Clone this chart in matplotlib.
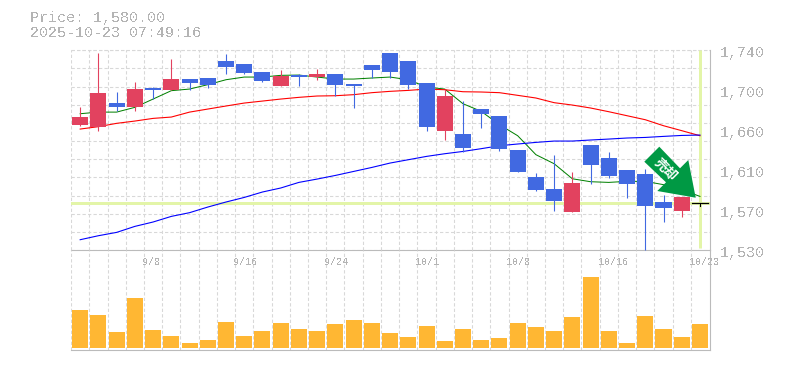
"""
Candlestick chart with moving averages and volume
"""
import matplotlib
matplotlib.use("Agg")
import matplotlib.pyplot as plt
from matplotlib.patches import Polygon

# ---- data ----
date_labels = ["9/8", "9/16", "9/24", "10/1", "10/8", "10/16", "10/23"]
date_index = [4, 9, 14, 19, 24, 29, 34]
price_labels = ["1,530", "1,570", "1,610", "1,660", "1,700", "1,740"]

opens = [1661.8, 1659.7, 1684.9, 1680.7, 1700.6, 1698.5, 1710.0, 1711.0, 1729.0, 1725.8,
         1717.4, 1702.7, 1714.3, 1712.2, 1715.3, 1704.8, 1724.8, 1737.4, 1729.0, 1705.9,
         1655.5, 1652.3, 1678.6, 1671.2, 1635.5, 1607.2, 1594.6, 1570.4, 1640.8, 1627.1,
         1614.5, 1610.3, 1580.9, 1571.4, 1580.0]
highs = [1680.7, 1737.4, 1696.4, 1706.9, 1701.7, 1731.0, 1710.0, 1711.0, 1736.3, 1725.8,
         1717.4, 1719.5, 1715.3, 1720.6, 1715.3, 1704.8, 1724.8, 1737.4, 1729.0, 1705.9,
         1699.6, 1687.0, 1678.6, 1671.2, 1635.5, 1611.4, 1630.3, 1612.4, 1640.8, 1633.4,
         1614.5, 1615.6, 1587.9, 1585.5, 1580.0]
lows = [1660.7, 1655.5, 1676.5, 1676.5, 1689.0, 1698.5, 1698.5, 1700.6, 1715.3, 1715.3,
        1706.9, 1702.7, 1702.7, 1709.0, 1692.2, 1679.6, 1710.8, 1711.1, 1699.6, 1655.5,
        1646.0, 1633.4, 1658.6, 1634.5, 1612.4, 1592.5, 1571.4, 1570.4, 1599.8, 1606.1,
        1585.1, 1530.0, 1559.9, 1565.2, 1576.0]
closes = [1670.2, 1695.4, 1680.7, 1699.6, 1698.5, 1710.0, 1705.9, 1703.8, 1722.7, 1716.4,
          1708.0, 1713.2, 1712.2, 1715.3, 1703.8, 1702.7, 1719.5, 1717.4, 1703.8, 1659.7,
          1692.2, 1637.6, 1673.3, 1636.6, 1612.4, 1593.5, 1582.0, 1600.8, 1619.8, 1608.2,
          1599.8, 1576.7, 1574.6, 1585.5, 1580.0]

ma_short = [1673.3, 1675.0, 1675.0, 1680.0, 1688.7, 1697.5, 1699.2, 1703.8, 1709.0, 1711.8,
            1711.8, 1713.6, 1713.9, 1711.8, 1709.7, 1709.7, 1710.8, 1711.8, 1709.0, 1701.3,
            1699.2, 1683.8, 1675.8, 1661.8, 1650.2, 1630.3, 1620.8, 1605.0, 1601.9, 1601.2,
            1602.3, 1602.3, 1598.8, 1593.5, 1586.5]
ma_mid = [1657.2, 1659.7, 1663.2, 1665.6, 1668.4, 1669.8, 1675.0, 1678.2, 1681.4, 1684.5,
          1686.6, 1688.7, 1690.5, 1691.9, 1692.2, 1693.3, 1695.4, 1696.8, 1697.8, 1699.2,
          1698.5, 1696.4, 1696.1, 1695.4, 1692.6, 1689.8, 1684.9, 1682.4, 1679.3, 1675.4,
          1671.2, 1667.0, 1660.7, 1655.5, 1650.2]
ma_long = [1541.0, 1545.2, 1548.7, 1555.0, 1559.6, 1565.5, 1569.4, 1575.3, 1580.6, 1585.4,
           1591.1, 1595.3, 1601.2, 1604.7, 1608.5, 1612.7, 1616.9, 1621.5, 1625.0, 1628.5,
           1631.3, 1633.7, 1636.6, 1639.7, 1641.5, 1643.2, 1644.6, 1644.6, 1645.7, 1646.7,
           1647.8, 1648.4, 1649.5, 1650.5, 1650.9]

volumes = [115, 100, 49, 151, 55, 37, 16, 25, 79, 37, 52, 76, 58, 52, 73, 85, 76, 46,
           33, 66, 21, 57, 24, 30, 75, 63, 51, 93, 213, 51, 15, 96, 57, 33, 72]

last_price = 1580.0

# ---- style ----
W, H = 785, 370
LEFT, RIGHT = 70.5, 710.0
PRICE_TOP, PRICE_BOTTOM, VOL_BOTTOM = 50.2, 250.2, 349.5
TEXT = "#b4b4b4"
GRID = "#d8d8d8"
AXIS = "#bbbbbb"
HILITE = "#e3f5a8"
UP = "#e2425f"
DOWN = "#4169e1"
VOLUME = "#ffb733"
ARROW = "#009944"
PX = 72 / 100  # 1px in points

plt.rcParams["font.family"] = ["Liberation Mono", "Noto Sans CJK JP", "DejaVu Sans"]
plt.rcParams["text.antialiased"] = False


def axes_at(top, bottom):
    return fig.add_axes([LEFT / W, 1 - bottom / H, (RIGHT - LEFT) / W, (bottom - top) / H])


def style_axes(ax):
    ax.patch.set_visible(False)
    ax.set_xlim(-0.53, 34.55)
    ax.set_xticks([i - 0.5 for i in range(len(closes))])
    ax.tick_params(length=0, labelbottom=False, labelleft=False)
    ax.grid(True, axis="x", color=GRID, lw=PX * 1.1, ls=(0, (3, 2)))
    ax.set_axisbelow(True)
    for side in ("top", "left"):
        ax.spines[side].set_visible(False)
    for side in ("right", "bottom"):
        ax.spines[side].set_color(AXIS)
        ax.spines[side].set_linewidth(PX * 1.1)


fig = plt.figure(figsize=(W / 100, H / 100), dpi=100, facecolor="white")
ax = axes_at(PRICE_TOP, PRICE_BOTTOM)
ax_vol = axes_at(PRICE_BOTTOM, VOL_BOTTOM)
style_axes(ax)
style_axes(ax_vol)

# ---- price panel ----
ax.set_ylim(1530, 1740)
ax.set_yticks([1530 + 210 / 11 * k for k in range(12)])
ax.grid(True, axis="y", color=GRID, lw=PX * 1.1, ls=(0, (3, 2)))
ax.plot([-0.53, 34.55], [1740, 1740], color=GRID, lw=PX * 1.1, ls=(0, (3, 2)), clip_on=False, zorder=1)

# 現在値のハイライト
ax.axhline(last_price, color=HILITE, lw=PX * 3, zorder=1.5)
ax.plot([34, 34], [1532, 1740], color=HILITE, lw=PX * 3, zorder=1.5, solid_capstyle="butt")

# 移動平均線
xs = list(range(len(closes)))
ax.plot(xs, ma_short, color="green", lw=PX * 1.0, zorder=2)
ax.plot(xs, ma_mid, color="red", lw=PX * 1.1, zorder=2)
ax.plot(xs, ma_long, color="blue", lw=PX * 1.1, zorder=2)

# ローソク足
for i in xs[:-1]:
    color = UP if closes[i] >= opens[i] else DOWN
    ax.plot([i, i], [lows[i], highs[i]], color=color, lw=PX * 1.1, zorder=3,
            solid_capstyle="butt", clip_on=False)
    ax.bar(i, abs(closes[i] - opens[i]), bottom=min(opens[i], closes[i]), width=0.88,
           color=color, linewidth=0, zorder=3)
# 最終日は同値足
ax.plot([xs[-1] - 0.44, xs[-1] + 0.44], [closes[-1], closes[-1]], color="black", lw=PX * 1.2, zorder=4)
ax.plot([xs[-1], xs[-1]], [lows[-1], highs[-1]], color="black", lw=PX * 1.1, zorder=4)

# 価格ラベル
for k, label in enumerate(price_labels):
    ax.annotate(label, xy=(1, k / 5), xycoords="axes fraction", xytext=(10 * PX, -3 * PX),
                textcoords="offset points", ha="left", va="center", fontsize=15 * PX,
                color=TEXT, annotation_clip=False)

# ---- volume panel ----
ax_vol.bar(xs, volumes, width=0.88, color=VOLUME, linewidth=0, zorder=3)
ax_vol.set_ylim(-4.5, 292.5)
ax_vol.set_yticks([])
for i, label in zip(date_index, date_labels):
    ax_vol.annotate(label, xy=(i, 1), xycoords=("data", "axes fraction"), xytext=(-11 * PX, -12 * PX),
                    textcoords="offset points", ha="left", va="center", fontsize=10 * PX,
                    color=TEXT, zorder=5)

# ---- 矢印シグナル ----
arrow_px = [(644.3, 161.7), (659.3, 146.7), (680.0, 168.3), (688.3, 160.0),
            (695.7, 197.7), (657.3, 191.0), (666.0, 182.3)]
arrow_fig = [(x / W, 1 - y / H) for x, y in arrow_px]
fig.add_artist(Polygon(arrow_fig, closed=True, transform=fig.transFigure,
                       facecolor=ARROW, edgecolor="none", zorder=10))
fig.text(665 / W, 1 - 170 / H, "売却", color="white", fontsize=13 * PX, fontweight="bold",
         rotation=-45, rotation_mode="anchor", ha="center", va="center",
         family=["Noto Sans CJK JP", "DejaVu Sans"], zorder=11, antialiased=True)

# ---- ヘッダ ----
fig.text(30 / W, 1 - 18 / H, "Price: 1,580.00", color=TEXT, fontsize=15 * PX, ha="left", va="center")
fig.text(30 / W, 1 - 33 / H, "2025-10-23 07:49:16", color=TEXT, fontsize=15 * PX, ha="left", va="center")

fig.savefig("out.png", dpi=100)
plt.close(fig)
